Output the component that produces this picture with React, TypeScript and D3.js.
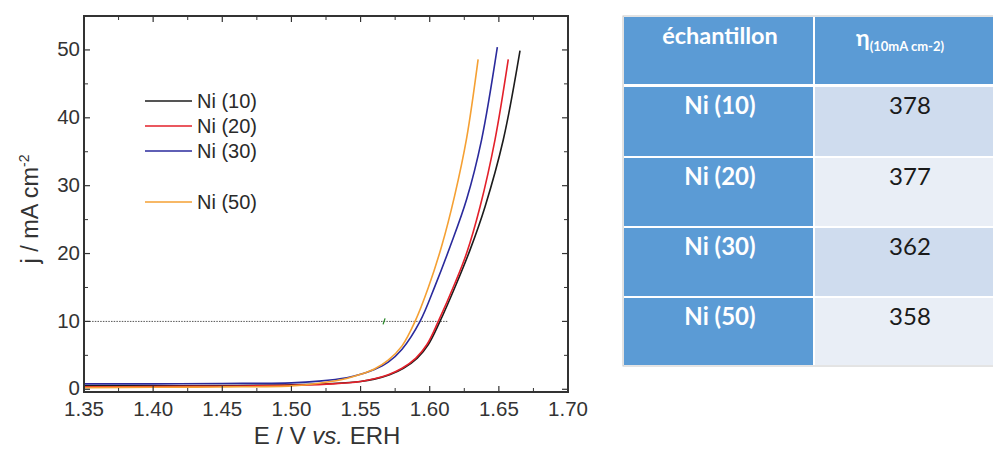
import React from "react";
import * as d3 from "d3";

// ---- Data ----
const seriesNames = ["Ni (10)", "Ni (20)", "Ni (30)", "Ni (50)"];
const seriesColors = ["#1c1c1c", "#e3202a", "#2a2a9c", "#f5a033"];

const ni10E = [1.35, 1.40, 1.45, 1.50, 1.53, 1.55, 1.56, 1.571, 1.581, 1.591, 1.599, 1.6074, 1.619, 1.6291, 1.640, 1.6532, 1.6653];
const ni10J = [0.5, 0.5, 0.55, 0.65, 0.85, 1.15, 1.5, 2.15, 3.1, 4.6, 6.6, 10, 15.4, 20.5, 26.9, 36.76, 49.9];

const ni20E = [1.35, 1.40, 1.45, 1.50, 1.53, 1.55, 1.56, 1.57, 1.58, 1.59, 1.598, 1.6062, 1.6183, 1.6267, 1.6364, 1.6472, 1.6568];
const ni20J = [0.35, 0.4, 0.45, 0.6, 0.8, 1.15, 1.55, 2.15, 3.1, 4.6, 6.6, 10, 15.65, 20.07, 26.9, 36.76, 48.6];

const ni30E = [1.35, 1.40, 1.45, 1.50, 1.52, 1.54, 1.55, 1.56, 1.57, 1.58, 1.593, 1.6038, 1.6147, 1.6267, 1.6375, 1.6489];
const ni30J = [0.8, 0.8, 0.85, 0.95, 1.2, 1.7, 2.2, 2.9, 4.0, 5.9, 10, 15.2, 21.0, 28.0, 36.76, 50.4];

const ni50E = [1.35, 1.40, 1.45, 1.50, 1.52, 1.54, 1.55, 1.56, 1.57, 1.58, 1.5894, 1.599, 1.6085, 1.618, 1.6267, 1.635];
const ni50J = [0.25, 0.3, 0.35, 0.5, 0.9, 1.6, 2.2, 3.0, 4.3, 6.4, 10, 15, 21, 28.5, 37, 48.6];

const seriesE = [ni10E, ni20E, ni30E, ni50E];
const seriesJ = [ni10J, ni20J, ni30J, ni50J];

const xTicks = [1.35, 1.40, 1.45, 1.50, 1.55, 1.60, 1.65, 1.70];
const yTicks = [0, 10, 20, 30, 40, 50];
const refJ = 10;
const refLineEnd = 1.613;
const markerE = 1.567;

const tableHeader = ["échantillon", "η", "(10mA cm-2)"];
const tableSamples = ["Ni (10)", "Ni (20)", "Ni (30)", "Ni (50)"];
const tableEta = ["378", "377", "362", "358"];

export default function App() {
  const x = d3.scaleLinear().domain([1.35, 1.70]).range([84, 568]);
  const y = d3.scaleLinear().domain([-0.4, 55]).range([392, 16]);
  const line = d3
    .line<[number, number]>()
    .x((d) => x(d[0]))
    .y((d) => y(d[1]))
    .curve(d3.curveCatmullRom.alpha(0.5));

  const xMinor = d3.range(1.375, 1.70, 0.05);
  const yMinor = d3.range(5, 55, 10);
  const axisFont = "'Liberation Sans', Arial, sans-serif";
  const tickCol = "#333";

  // Table geometry
  const tLeft = 624;
  const tMid = 814;
  const tRight = 1010;
  const headTop = 17;
  const headBottom = 84;
  const rowTops = [87, 158, 228, 298];
  const rowBottoms = [156, 226, 296, 365];
  const blue = "#5b9bd5";
  const light1 = "#cfdcee";
  const light2 = "#e9eef6";
  const tFont = "Lato, 'Open Sans', sans-serif";

  return (
    <svg
      width={993}
      height={452}
      style={{ position: "absolute", left: 0, top: 0, background: "#fff" }}
      fontFamily={axisFont}
    >
      <rect x={0} y={0} width={993} height={452} fill="#fff" />

      {/* reference dotted line */}
      <line
        x1={x(1.35)}
        x2={x(refLineEnd)}
        y1={y(refJ)}
        y2={y(refJ)}
        stroke="#555"
        strokeWidth={1}
        strokeDasharray="1.5,1.2"
      />
      <line
        x1={x(markerE) - 1}
        x2={x(markerE) + 1}
        y1={y(refJ) + 3}
        y2={y(refJ) - 3}
        stroke="#2a8a2a"
        strokeWidth={1.3}
      />

      {/* curves */}
      {seriesE.map((es, i) => (
        <path
          key={i}
          d={line(es.map((e, k) => [e, seriesJ[i][k]] as [number, number])) || ""}
          fill="none"
          stroke={seriesColors[i]}
          strokeWidth={1.6}
        />
      ))}

      {/* frame */}
      <rect x={84} y={16} width={484} height={376} fill="none" stroke="#333" strokeWidth={2} />

      {/* x ticks */}
      {xTicks.map((t) => (
        <g key={"xt" + t}>
          <line x1={x(t)} x2={x(t)} y1={392} y2={386} stroke="#333" strokeWidth={1.2} />
          <line x1={x(t)} x2={x(t)} y1={16} y2={22} stroke="#333" strokeWidth={1.2} />
          <text x={x(t)} y={416} textAnchor="middle" fontSize={20.5} fill={tickCol}>
            {t.toFixed(2)}
          </text>
        </g>
      ))}
      {xMinor.map((t) => (
        <g key={"xm" + t}>
          <line x1={x(t)} x2={x(t)} y1={392} y2={388} stroke="#333" strokeWidth={1} />
          <line x1={x(t)} x2={x(t)} y1={16} y2={20} stroke="#333" strokeWidth={1} />
        </g>
      ))}

      {/* y ticks */}
      {yTicks.map((t) => (
        <g key={"yt" + t}>
          <line x1={84} x2={90} y1={y(t)} y2={y(t)} stroke="#333" strokeWidth={1.2} />
          <line x1={568} x2={562} y1={y(t)} y2={y(t)} stroke="#333" strokeWidth={1.2} />
          <text x={80} y={y(t) + (t === 0 ? 5.5 : 6.5)} textAnchor="end" fontSize={20.5} fill={tickCol}>
            {t}
          </text>
        </g>
      ))}
      {yMinor.map((t) => (
        <g key={"ym" + t}>
          <line x1={84} x2={88} y1={y(t)} y2={y(t)} stroke="#333" strokeWidth={1} />
          <line x1={568} x2={564} y1={y(t)} y2={y(t)} stroke="#333" strokeWidth={1} />
        </g>
      ))}

      {/* axis titles */}
      <text x={327} y={444} textAnchor="middle" fontSize={24} fill={tickCol}>
        E / V <tspan fontStyle="italic">vs.</tspan> ERH
      </text>
      <text transform="translate(38,209) rotate(-90)" textAnchor="middle" fontSize={23.5} fill={tickCol}>
        j / mA cm<tspan dy={-9} fontSize={14}>-2</tspan>
      </text>

      {/* legend */}
      {seriesNames.map((n, i) => {
        const ly = [101, 126, 151, 202][i];
        return (
          <g key={"lg" + i}>
            <line x1={145} x2={192} y1={ly} y2={ly} stroke={seriesColors[i]} strokeWidth={1.6} />
            <text x={197} y={ly + 7} fontSize={20} fill="#2a2a2a">
              {n}
            </text>
          </g>
        );
      })}

      {/* table */}
      <g fontFamily={tFont}>
        <rect x={tLeft - 1} y={headTop - 1} width={tRight - tLeft + 2} height={rowBottoms[3] - headTop + 2} fill="#fff" stroke="#c8c8c8" strokeWidth={1} />
        <rect x={tLeft} y={headTop} width={tMid - tLeft - 1} height={headBottom - headTop} fill={blue} />
        <rect x={tMid + 1} y={headTop} width={tRight - tMid} height={headBottom - headTop} fill={blue} />
        <text x={(tLeft + tMid) / 2 + 1} y={44} textAnchor="middle" fontSize={23.5} fontWeight="bold" fill="#fff">
          {tableHeader[0]}
        </text>
        <text x={856} y={46} fontSize={23} fontWeight="bold" fill="#fff">
          {tableHeader[1]}
          <tspan dy={5} fontSize={13}>{tableHeader[2]}</tspan>
        </text>
        {tableSamples.map((s, i) => (
          <g key={"tr" + i}>
            <rect x={tLeft} y={rowTops[i]} width={tMid - tLeft - 1} height={rowBottoms[i] - rowTops[i]} fill={blue} />
            <rect
              x={tMid + 1}
              y={rowTops[i]}
              width={tRight - tMid}
              height={rowBottoms[i] - rowTops[i]}
              fill={i % 2 === 0 ? light1 : light2}
            />
            <text x={(tLeft + tMid) / 2 + 1} y={rowTops[i] + 27} textAnchor="middle" fontSize={24} fontWeight="bold" fill="#fff">
              {s}
            </text>
            <text x={910} y={rowTops[i] + 27} textAnchor="middle" fontSize={24} fill="#1a1a1a">
              {tableEta[i]}
            </text>
          </g>
        ))}
      </g>
    </svg>
  );
}
